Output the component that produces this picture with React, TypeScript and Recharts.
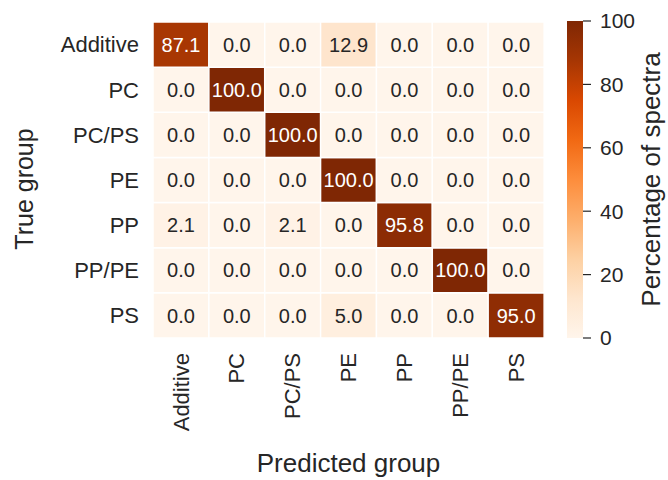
import { BarChart, Bar, XAxis, YAxis, Cell, LabelList } from 'recharts'

const predicted = ['Additive', 'PC', 'PC/PS', 'PE', 'PP', 'PP/PE', 'PS']
const trueGroups = ['Additive', 'PC', 'PC/PS', 'PE', 'PP', 'PP/PE', 'PS']

// rows = true group, columns = predicted group (percent)
const additiveRow = [87.1, 0, 0, 12.9, 0, 0, 0]
const pcRow = [0, 100, 0, 0, 0, 0, 0]
const pcpsRow = [0, 0, 100, 0, 0, 0, 0]
const peRow = [0, 0, 0, 100, 0, 0, 0]
const ppRow = [2.1, 0, 2.1, 0, 95.8, 0, 0]
const ppRePeRow = [0, 0, 0, 0, 0, 100, 0]
const psRow = [0, 0, 0, 5.0, 0, 0, 95.0]

const matrix = [additiveRow, pcRow, pcpsRow, peRow, ppRow, ppRePeRow, psRow]
const colorbarTicks = [0, 20, 40, 60, 80, 100]

const FONT = '"Liberation Sans", Arial, sans-serif'
const INK = '#262626'

// matplotlib "Oranges"
const oranges = ['#fff5eb', '#fee6ce', '#fdd0a2', '#fdae6b', '#fd8d3c', '#f16913', '#d94801', '#a63603', '#7f2704']

function hexToRgb(h: string) {
  return [1, 3, 5].map((i) => parseInt(h.slice(i, i + 2), 16))
}

function orangeAt(v: number) {
  const t = Math.max(0, Math.min(1, v / 100)) * (oranges.length - 1)
  const i = Math.min(Math.floor(t), oranges.length - 2)
  const f = t - i
  const a = hexToRgb(oranges[i])
  const b = hexToRgb(oranges[i + 1])
  const c = a.map((x, k) => Math.round(x + (b[k] - x) * f))
  return `rgb(${c[0]},${c[1]},${c[2]})`
}

// one stack per predicted column; each true group is a unit-height segment
const rows = predicted.map((name, col) => {
  const o: Record<string, number | string> = { name }
  trueGroups.forEach((_, r) => {
    o['r' + r] = 1
    o['v' + r] = matrix[r][col]
  })
  return o
})

// stack from the bottom: PS first, Additive last (top)
const stackOrder = trueGroups.map((_, r) => r).reverse()

const XTick = (props: any) => {
  const { x, y, payload } = props
  return (
    <text
      x={x}
      y={y}
      transform={`rotate(-90, ${x}, ${y})`}
      textAnchor="end"
      dy="0.35em"
      fill={INK}
      fontSize={22}
      fontFamily={FONT}
    >
      {payload.value}
    </text>
  )
}

function cellLabel(r: number) {
  return (props: any) => {
    const { x, y, width, height, index } = props
    const v = matrix[r][index]
    return (
      <text
        x={x + width / 2}
        y={y + height / 2}
        dy="0.36em"
        textAnchor="middle"
        fill={v > 50 ? '#ffffff' : INK}
        fontSize={20}
        fontFamily={FONT}
      >
        {v.toFixed(1)}
      </text>
    )
  }
}

const TrueGroupLabel = (props: any) => {
  const { viewBox } = props
  const x = viewBox.x + 11
  const y = viewBox.y + viewBox.height / 2 + 9
  return (
    <text
      x={x}
      y={y}
      transform={`rotate(-90, ${x}, ${y})`}
      textAnchor="middle"
      dy="0.35em"
      fill={INK}
      fontSize={25}
      fontFamily={FONT}
    >
      True group
    </text>
  )
}

const ColorbarShape = (props: any) => {
  const { x, y, width, height } = props
  return (
    <g>
      <defs>
        <linearGradient id="cbar" x1="0" y1="1" x2="0" y2="0">
          {oranges.map((c, i) => (
            <stop key={i} offset={i / (oranges.length - 1)} stopColor={c} />
          ))}
        </linearGradient>
      </defs>
      <rect x={x} y={y} width={width} height={height} fill="url(#cbar)" />
    </g>
  )
}

const colorbarData = [{ name: 'cb', v: 100 }]

export default function App() {
  return (
    <div style={{ position: 'absolute', left: 0, top: 0, width: 668, height: 480, background: '#fff' }}>
      <div style={{ position: 'absolute', left: 0, top: 0 }}>
        <BarChart
          width={668}
          height={480}
          data={rows}
          margin={{ top: 22, right: 124, bottom: 12, left: 13 }}
          barCategoryGap={0}
        >
          <XAxis
            dataKey="name"
            type="category"
            height={130}
            axisLine={false}
            tickLine={false}
            tickSize={0}
            tickMargin={15}
            tick={<XTick />}
            interval={0}
            label={{
              value: 'Predicted group',
              position: 'insideBottom',
              offset: -4,
              fill: INK,
              fontSize: 26,
              fontFamily: FONT,
            }}
          />
          <YAxis
            type="number"
            domain={[0, 7]}
            ticks={[0.5, 1.5, 2.5, 3.5, 4.5, 5.5, 6.5]}
            tickFormatter={(v: number) => trueGroups[6 - Math.floor(v)]}
            width={140}
            axisLine={false}
            tickLine={false}
            tickSize={0}
            tickMargin={14}
            tick={{ fill: INK, fontSize: 22, fontFamily: FONT }}
            label={<TrueGroupLabel />}
          />
          {stackOrder.map((r) => (
            <Bar
              key={r}
              dataKey={'r' + r}
              stackId="cm"
              isAnimationActive={false}
              stroke="#ffffff"
              strokeWidth={1.5}
            >
              {rows.map((_, col) => (
                <Cell key={col} fill={orangeAt(matrix[r][col])} />
              ))}
              <LabelList dataKey={'v' + r} content={cellLabel(r)} />
            </Bar>
          ))}
        </BarChart>
      </div>
      <div style={{ position: 'absolute', left: 560, top: 0 }}>
        <BarChart
          width={108}
          height={480}
          data={colorbarData}
          margin={{ top: 21, right: 0, bottom: 142, left: 7 }}
          barCategoryGap={0}
        >
          <XAxis dataKey="name" hide />
          <YAxis
            orientation="right"
            type="number"
            domain={[0, 100]}
            ticks={colorbarTicks}
            width={85}
            axisLine={false}
            tickLine={{ stroke: INK, strokeWidth: 1.2 }}
            tickSize={8}
            tickMargin={9}
            tick={{ fill: INK, fontSize: 21, fontFamily: FONT }}
            label={{
              value: 'Percentage of spectra',
              angle: -90,
              position: 'insideRight',
              offset: 17,
              fill: INK,
              fontSize: 26,
              fontFamily: FONT,
              style: { textAnchor: 'middle' },
            }}
          />
          <Bar dataKey="v" isAnimationActive={false} shape={<ColorbarShape />} />
        </BarChart>
      </div>
    </div>
  )
}
